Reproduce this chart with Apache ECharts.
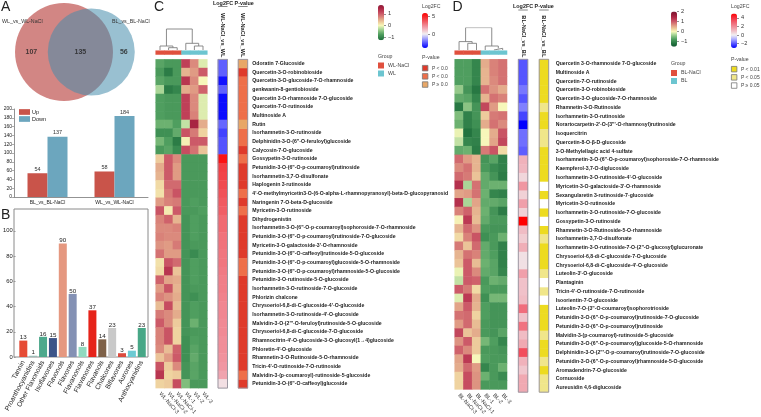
<!DOCTYPE html>
<html>
<head>
<meta charset="utf-8">
<style>html,body{margin:0;padding:0;background:#fff}#chart{width:761px;height:417px}</style>
<script src="https://cdn.jsdelivr.net/npm/echarts@6/dist/echarts.min.js"></script>
</head>
<body>
<div id="chart"></div>
<script>
// Differential flavonoid counts
const vennSetNames = ['WL_vs_WL-NaCl', 'BL_vs_BL-NaCl'];
const vennOnlyLeft = 107, vennShared = 135, vennOnlyRight = 56;

const compareNames = ['BL_vs_BL-NaCl', 'WL_vs_WL-NaCl'];
const upCounts = [54, 58];
const downCounts = [137, 184];
const countTicks = [0, 20, 40, 60, 80, 100, 120, 140, 160, 180, 200];

const classNames = ['Tannin', 'Proanthocyanidins', 'Other Flavonoids', 'Isoflavones', 'Flavonols', 'Flavones',
  'Flavanonols', 'Flavanones', 'Flavanols', 'Chalcones', 'Biflavones', 'Aurones', 'Anthocyanidins'];
const classCounts = [13, 1, 16, 15, 90, 50, 8, 37, 14, 23, 3, 5, 23];
const classColors = ['#E64B35', '#9DBDB8', '#4DA88C', '#3C5488', '#E59880', '#8491B4', '#91D9BF', '#E6231A',
  '#7E6148', '#C9C9C9', '#DC4B3E', '#6CCAD2', '#48A787'];
const classTicks = [0, 20, 40, 60, 80, 100];

// WL-NaCl vs WL heatmap
const samplesWL = ['WL-NaCl-3', 'WL-NaCl-2', 'WL-NaCl-1', 'WL-1', 'WL-2', 'WL-3'];
const metabolitesWL = [
  'Odoratin 7-Glucoside', 'Quercetin-3-O-robinobioside', 'Quercetin-3-O-glucoside-7-O-rhamnoside',
  'genkwanin-8-gentiobioside', 'Quercetin 3-O-rhamnoside 7-O-glucoside', 'Quercetin-7-O-rutinoside',
  'Multinoside A', 'Rutin', 'Isorhamnetin-3-O-rutinoside', 'Delphinidin-3-O-(6"-O-feruloyl)glucoside',
  'Calycosin-7-O-glucoside', 'Gossypetin-3-O-rutinoside', 'Petunidin-3-O-(6"-O-p-coumaroyl)rutinoside',
  'Isorhamnetin-3,7-O-disulfonate', 'Haplogenin 3-rutinoside',
  "4'-O-methylmyricetin3-O-(6-O-alpha-L-rhamnopyranosyl)-beta-D-glucopyranosid",
  'Naringenin 7-O-beta-D-glucoside', 'Myricetin-3-O-rutinoside', 'Dihydrogenistin',
  'Isorhamnetin-3-O-(6"-O-p-coumaroyl)sophoroside-7-O-rhamnoside',
  'Petunidin-3-O-(6"-O-p-coumaroyl)rutinoside-7-O-glucoside', "Myricetin-3-O-galactoside-3'-O-rhamnoside",
  'Petunidin-3-O-(6"-O-caffeoyl)rutinoside-5-O-glucoside',
  'Petunidin-3-O-(6"-O-p-coumaroyl)glucoside-5-O-rhamnoside',
  'Petunidin-3-O-(6"-O-p-coumaroyl)rhamnoside-5-O-glucoside', 'Petunidin-3-O-rutinoside-5-O-glucoside',
  'Isorhamnetin-3-O-rutinoside-7-O-glucoside', 'Phlorizin chalcone',
  "Chrysoeriol-6,8-di-C-glucoside-4'-O-glucoside", "Isorhamnetin-3-O-rutinoside-4'-O-glucoside",
  'Malvidin-3-O-(2"\'-O-feruloyl)rutinoside-5-O-glucoside', 'Chrysoeriol-6,8-di-C-glucoside-7-O-glucoside',
  "Rhamnocitrin-4'-O-glucoside-3-O-glucosyl(1→4)glucoside", "Phloretin-4'-O-glucoside",
  'Rhamnetin-3-O-Rutinoside-5-O-rhamnoside', "Tricin-4'-O-rutinoside-7-O-rutinoside",
  'Malvidin-3-(p-coumaroyl)-rutinoside-5-glucoside', 'Petunidin-3-O-(6"-O-caffeoyl)glucoside'];
const scaledWL = [
  [-0.7,-0.8,-0.8,1.2,0.7,-0.1],[-0.8,-1.1,-0.8,0.45,0.6,1.0],[-0.7,-0.8,-0.8,1.3,0.7,0.0],
  [-0.3,-1.1,-1.0,0.5,0.6,0.95],[-0.75,-0.8,-0.8,1.2,0.7,-0.1],[-0.75,-0.8,-0.8,1.2,0.7,-0.1],
  [-0.75,-0.8,-0.8,1.2,0.75,-0.1],[-0.6,-0.6,-0.75,-0.2,1.5,0.5],[-0.9,-0.9,-0.65,1.05,0.8,0.25],
  [-0.55,-0.75,-1.1,0.05,1.0,1.0],[-0.8,-0.7,-0.95,1.1,0.85,0.35],[0.3,1.0,0.7,-0.8,-0.8,-0.8],
  [0.5,1.0,0.6,-0.8,-0.8,-0.8],[0.45,1.0,0.6,-0.8,-0.8,-0.8],[0.2,0.9,0.9,-0.8,-0.8,-0.8],
  [0.15,0.8,1.05,-0.8,-0.8,-0.8],[0.6,0.75,0.8,-0.8,-0.75,-0.8],[1.05,0.1,1.0,-0.8,-0.8,-0.75],
  [0.75,0.95,0.45,-0.85,-0.75,-0.8],[0.7,0.7,0.75,-0.85,-0.75,-0.8],[0.75,0.7,0.7,-0.85,-0.75,-0.8],
  [0.65,0.6,0.8,-0.85,-0.8,-0.8],[0.85,0.6,0.6,-0.85,-0.95,-0.8],[0.15,1.05,0.9,-0.85,-0.75,-0.8],
  [0.2,1.3,0.35,-0.85,-0.75,-0.8],[0.95,0.55,0.5,-0.85,-0.75,-0.8],[0.6,1.05,0.45,-0.85,-0.8,-0.8],
  [0.75,0.65,0.5,-0.85,-0.9,-0.8],[0.4,1.1,0.4,-0.85,-0.75,-0.8],[0.8,0.7,0.5,-0.85,-0.75,-0.8],
  [1.0,0.7,0.3,-0.85,-0.6,-0.8],[0.75,1.05,0.25,-0.85,-0.8,-0.8],[0.75,1.05,0.25,-0.9,-0.75,-0.8],
  [0.7,0.4,0.95,-0.9,-0.7,-0.8],[0.35,0.6,1.0,-0.9,-0.65,-0.8],[1.05,0.3,0.7,-0.85,-0.7,-0.8],
  [1.3,0.25,0.3,-0.85,-0.7,-0.8],[0.25,0.3,1.1,-0.5,-0.8,-0.8]];
const log2fcWL = [-2.4,-2.4,-3.7,-2.4,-3.8,-3.8,-3.8,-2.3,-2.9,-2.6,-2.6,5.5,4.3,4.2,4.0,3.8,3.6,3.5,3.2,3.2,3.0,
  3.0,2.9,2.9,2.8,2.7,2.7,2.6,2.5,2.5,2.4,2.4,2.3,2.3,2.2,2.1,1.8,0.4];
const pLevelWL = [2,0,1,1,1,1,1,2,1,1,0,1,0,0,0,1,0,1,0,0,0,0,0,1,1,0,0,0,0,0,0,0,0,0,0,0,1,0];
const mergeTreeWL = [[0, [1, 2, 2.3], 4], [3, [4, 5, 4], 6.7], 21];

// BL-NaCl vs BL heatmap
const samplesBL = ['BL-NaCl-3', 'BL-NaCl-2', 'BL-NaCl-1', 'BL-1', 'BL-2', 'BL-3'];
const metabolitesBL = [
  'Quercetin 3-O-rhamnoside 7-O-glucoside', 'Multinoside A', 'Quercetin-7-O-rutinoside',
  'Quercetin-3-O-robinobioside', 'Quercetin-3-O-glucoside-7-O-rhamnoside', 'Rhamnetin-3-O-Rutinoside',
  'Isorhamnetin-3-O-rutinoside', 'Norartocarpetin-2\'-O-(3"\'-O-rhamnosyl)rutinoside', 'Isoquercitrin',
  'Quercetin-8-O-β-D-glucoside', '3-O-Methylellagic acid 4-sulfate',
  'Isorhamnetin-3-O-(6"-O-p-coumaroyl)sophoroside-7-O-rhamnoside', 'Kaempferol-3,7-O-diglucoside',
  "Isorhamnetin-3-O-rutinoside-4'-O-glucoside", "Myricetin-3-O-galactoside-3'-O-rhamnoside",
  'Sexangularetin 3-rutinoside-7-glucoside', 'Myricetin-3-O-rutinoside',
  'Isorhamnetin-3-O-rutinoside-7-O-glucoside', 'Gossypetin-3-O-rutinoside',
  'Rhamnetin-3-O-Rutinoside-5-O-rhamnoside', 'Isorhamnetin-3,7-O-disulfonate',
  'Isorhamnetin-3-O-rutinoside-7-O-(2"-O-glucosyl)glucuronate', 'Chrysoeriol-6,8-di-C-glucoside-7-O-glucoside',
  "Chrysoeriol-6,8-di-C-glucoside-4'-O-glucoside", "Luteolin-3'-O-glucoside", 'Plantaginin',
  "Tricin-4'-O-rutinoside-7-O-rutinoside", 'Isoorientin-7-O-glucoside',
  'Luteolin-7-O-(3"-O-coumaroyl)sophorotrioside', 'Petunidin-3-O-(6"-O-p-coumaroyl)rutinoside-7-O-glucoside',
  'Petunidin-3-O-(6"-O-p-coumaroyl)rutinoside', 'Malvidin-3-(p-coumaroyl)-rutinoside-5-glucoside',
  'Petunidin-3-O-(6"-O-p-coumaroyl)glucoside-5-O-rhamnoside',
  'Delphinidin-3-O-(2"\'-O-p-coumaroyl)rutinoside-7-O-glucoside',
  'Petunidin-3-O-(6"-O-p-coumaroyl)rhamnoside-5-O-glucoside', 'Aromadendrin-7-O-glucoside', 'Cornuoside',
  'Aureusidin 4,6-diglucoside'];
const scaledBL = [
  [-0.75,-0.75,-1.0,0.5,0.75,0.85],[-0.75,-0.75,-1.0,0.45,0.75,0.85],[-0.75,-0.75,-1.0,0.45,0.7,0.85],
  [-0.4,-0.85,-1.15,0.85,0.65,0.5],[-0.65,-0.7,-1.0,0.45,0.85,0.75],[-1.15,-0.45,-0.85,1.15,0.6,0.0],
  [-0.5,-1.05,-0.85,0.3,0.8,0.85],[-0.6,-1.05,-0.9,0.5,0.85,0.7],[-0.05,-1.2,-1.0,0.0,0.5,1.05],
  [-0.2,-1.0,-1.05,0.0,0.55,1.15],[-0.65,-0.6,-1.1,0.8,1.05,0.2],[0.9,0.6,0.45,-0.85,-0.7,-1.05],
  [0.7,0.85,0.45,-0.8,-0.95,-1.05],[0.9,0.8,0.35,-0.65,-0.85,-1.1],[1.35,-0.3,0.85,-0.65,-0.6,-0.6],
  [0.55,0.6,0.85,-0.6,-1.0,-1.05],[1.35,-0.3,0.55,-0.65,-0.65,-0.7],[0.75,0.95,0.45,-0.6,-0.85,-1.1],
  [0.05,1.25,0.4,-0.65,-0.8,-0.8],[0.45,0.9,0.65,-0.8,-0.85,-0.85],[0.2,0.75,1.05,-0.9,-0.8,-0.6],
  [0.8,0.35,0.9,-0.65,-0.8,-1.05],[0.45,0.85,0.75,-0.65,-0.75,-1.05],[0.35,1.0,0.4,-0.6,-0.7,-1.05],
  [-0.05,1.0,0.7,-0.65,-0.7,-1.0],[-0.2,1.0,0.95,-0.8,-0.6,-0.65],[1.0,0.8,0.2,-0.75,-0.8,-0.8],
  [-0.1,1.25,0.5,-0.9,-0.55,-0.55],[0.55,1.0,0.45,-0.75,-0.85,-0.85],[0.85,0.9,0.25,-0.75,-0.85,-0.85],
  [0.6,0.9,0.4,-0.8,-0.85,-0.85],[1.15,0.35,0.5,-0.8,-0.85,-0.7],[0.65,1.0,0.3,-0.55,-0.75,-1.0],
  [0.95,0.7,0.3,-0.8,-0.8,-0.85],[0.55,1.25,0.0,-0.75,-0.8,-0.8],[0.5,0.9,0.6,-1.0,-0.8,-0.6],
  [0.25,1.1,0.65,-0.6,-0.8,-0.95],[0.25,1.1,0.65,-0.8,-0.8,-0.8]];
const log2fcBL = [-2.0,-2.0,-2.0,-1.6,-2.0,-1.5,-2.2,-3.0,-1.7,-1.7,-1.9,1.2,1.1,0.5,1.8,0.6,1.6,0.6,5.0,1.0,0.7,
  1.3,0.3,0.3,1.6,0.9,0.9,1.0,2.7,0.9,2.6,1.0,1.4,3.4,1.2,0.8,1.4,1.4];
const pLevelBL = [0,0,0,0,0,1,0,0,1,1,0,0,0,0,2,0,2,0,2,0,1,0,0,0,1,2,1,2,0,0,0,1,0,0,1,0,1,1];
const mergeTreeBL = [[0, [1, 2, 6.7], 8.4], [3, [4, 5, 1.7], 4], 22.4];

// Colour ramps and legend ticks
const scaledRampSteps = ['#145A30', '#1F6E3C', '#35864D', '#4F9E5F', '#80BD7C', '#B5DC9E', '#F7F7BA', '#EFD3A0',
  '#E4AC8C', '#D98279', '#CC5A68', '#BC3A54', '#A82442', '#8F1A36', '#7A1430'];
const log2fcRampWL = ['#0000FF', '#7878FF', '#F2F0F2', '#F09AA6', '#F04A50', '#FF0000'];
const log2fcRampBL = ['#0000FF', '#5555FF', '#AAAAFF', '#F2F0F2', '#F0BCC4', '#F08C98', '#F06070', '#F53040', '#FF0000'];
const scaledTicksWL = [-1, 0, 1], scaledTicksBL = [-1, 0, 1, 2];
const fcTicksWL = [0, 5], fcTicksBL = [-2, 0, 2, 4];
const pLabelsWL = ['P < 0.0', 'P < 0.0', 'P ≥ 0.0'];
const pLabelsBL = ['P < 0.01', 'P < 0.05', 'P ≥ 0.05'];
const pColorsWL = ['#DF3A2B', '#EE6F4A', '#E8A767'];
const pColorsBL = ['#EDDB20', '#F0E68A', '#FFFFFF'];

const FONT = '"Liberation Sans", Arial, sans-serif';
const INK = '#222';
const grid = [], xAxis = [], yAxis = [], series = [], visualMap = [], legend = [], title = [], graphic = [];

function addPanel(box, x, y) {
  grid.push(Object.assign({ containLabel: false }, box));
  const i = grid.length - 1;
  xAxis.push(Object.assign({ gridIndex: i }, x));
  yAxis.push(Object.assign({ gridIndex: i }, y));
  return i;
}
function addSeries(s) { series.push(s); return series.length - 1; }
function caption(text, left, top, size, weight, color) {
  title.push({ text, left, top, padding: 0, textStyle: { fontFamily: FONT, fontSize: size, fontWeight: weight || 'normal', color: color || INK, lineHeight: size } });
}
function underline(x1, x2, y) {
  graphic.push({ type: 'line', silent: true, shape: { x1, y1: y, x2, y2: y }, style: { stroke: '#555', lineWidth: 0.7 } });
}
const hidden = { show: false };
const plainCats = data => ({ type: 'category', data, axisLine: hidden, axisTick: hidden, axisLabel: hidden, splitLine: hidden });

// Area-proportional Venn: circle radii follow the set sizes, spacing is solved from the shared area
function lensArea(r1, r2, d) {
  const a = (d * d + r1 * r1 - r2 * r2) / (2 * d), b = d - a;
  const seg = (r, h) => r * r * Math.acos(h / r) - h * Math.sqrt(r * r - h * h);
  return seg(r1, a) + seg(r2, b);
}
function drawVenn() {
  const pxPerUnit = 5.58;
  const r1 = Math.sqrt((vennOnlyLeft + vennShared) / Math.PI);
  const r2 = Math.sqrt((vennOnlyRight + vennShared) / Math.PI);
  let lo = r1 - r2 + 1e-3, hi = r1 + r2 - 1e-3;
  for (let k = 0; k < 60; k++) {
    const mid = (lo + hi) / 2;
    if (lensArea(r1, r2, mid) > vennShared) lo = mid; else hi = mid;
  }
  const d = (lo + hi) / 2;
  const i = addPanel({ left: 0, top: 0, width: 150, height: 104 },
    { type: 'value', show: false, min: -64 / pxPerUnit, max: 86 / pxPerUnit },
    { type: 'value', show: false, min: -52 / pxPerUnit, max: 52 / pxPerUnit });
  addSeries({ type: 'scatter', xAxisIndex: i, yAxisIndex: i, data: [[0, 0]], symbolSize: 2 * r1 * pxPerUnit, silent: true,
    itemStyle: { color: 'rgb(192,88,84)', opacity: 0.72 } });
  addSeries({ type: 'scatter', xAxisIndex: i, yAxisIndex: i, data: [[d, 0]], symbolSize: 2 * r2 * pxPerUnit, silent: true,
    itemStyle: { color: 'rgb(70,140,172)', opacity: 0.55 } });
  addSeries({ type: 'scatter', xAxisIndex: i, yAxisIndex: i, symbolSize: 0, silent: true, z: 5,
    data: [[(d - r2 - r1) / 2, 0, vennOnlyLeft], [(d - r2 + r1) / 2, 0, vennShared], [(r1 + d + r2) / 2, 0, vennOnlyRight]],
    label: { show: true, position: 'inside', formatter: p => p.value[2], fontFamily: FONT, fontSize: 7, fontWeight: 'bold', color: '#222' } });
  caption(vennSetNames[0], 2, 19, 5.3, 'normal', '#333');
  caption(vennSetNames[1], 112, 19, 5.3, 'normal', '#333');
}

function drawUpDownBars() {
  const i = addPanel({ left: 14, top: 109, width: 134, height: 88 },
    { type: 'category', data: compareNames, axisLine: { lineStyle: { color: '#777', width: 0.8 } }, axisTick: { length: 2, lineStyle: { color: '#777', width: 0.6 } },
      axisLabel: { fontFamily: FONT, fontSize: 5, color: INK, margin: 3, interval: 0 } },
    { type: 'value', min: 0, max: 200, interval: 20, axisLine: { show: true, lineStyle: { color: '#777', width: 0.8 } }, axisTick: { show: true, length: 2, lineStyle: { color: '#777', width: 0.6 } },
      splitLine: hidden, axisLabel: { fontFamily: FONT, fontSize: 5, color: INK, margin: 2, customValues: countTicks } });
  const valueLabel = { show: true, position: 'top', distance: 1, fontFamily: FONT, fontSize: 5.5, color: '#333' };
  addSeries({ type: 'bar', name: 'Up', xAxisIndex: i, yAxisIndex: i, data: upCounts, barWidth: 20, barGap: 0, itemStyle: { color: '#C9544A' }, label: valueLabel });
  addSeries({ type: 'bar', name: 'Down', xAxisIndex: i, yAxisIndex: i, data: downCounts, barWidth: 20, barGap: 0, itemStyle: { color: '#6CA6BE' }, label: valueLabel });
  legend.push({ data: ['Up', 'Down'], orient: 'vertical', left: 19, top: 109, padding: 0, itemWidth: 11, itemHeight: 5.7, itemGap: 1, selectedMode: false, icon: 'rect',
    textStyle: { fontFamily: FONT, fontSize: 5.5, color: INK, padding: [0, 0, 0, -3] } });
}

function drawClassBars() {
  // Outer frame of the panel, slightly wider than the band axis inside it
  addPanel({ left: 14, top: 209, width: 134, height: 148, show: true, borderColor: '#8a8a8a', borderWidth: 1 },
    { type: 'value', show: false, min: 0, max: 1 }, { type: 'value', show: false, min: 0, max: 1 });
  const i = addPanel({ left: 16.7, top: 209, width: 130, height: 148 },
    { type: 'category', data: classNames, axisLine: hidden, axisTick: hidden,
      axisLabel: { fontFamily: FONT, fontSize: 6.8, color: INK, rotate: 62, margin: 4, interval: 0 } },
    { type: 'value', min: 0, max: 117.3, offset: 2.7, splitLine: hidden, axisLine: hidden,
      axisTick: { show: true, length: 2, lineStyle: { color: '#777', width: 0.6 }, customValues: classTicks },
      axisLabel: { fontFamily: FONT, fontSize: 5.8, color: INK, margin: 3, customValues: classTicks } });
  addSeries({ type: 'bar', xAxisIndex: i, yAxisIndex: i, barWidth: 8,
    data: classCounts.map((value, k) => ({ value, itemStyle: { color: classColors[k] } })),
    label: { show: true, position: 'top', distance: 0, fontFamily: FONT, fontSize: 6.2, color: '#222' } });
}

// Draws the merge tree of one clustered heatmap as connected brackets
function dendrogramSegments(tree, out) {
  const place = node => {
    if (typeof node === 'number') return { x: node + 0.5, y: 0 };
    const a = place(node[0]), b = place(node[1]), h = node[2];
    out.push([a.x, a.y], [a.x, h], [b.x, h], [b.x, b.y], ['-', '-']);
    return { x: (a.x + b.x) / 2, y: h };
  };
  place(tree);
  return out;
}

function drawHeatmapPanel(cfg) {
  const x = cfg.left, w = cfg.cellW * 6;
  const rowCount = cfg.rows.length;
  const h = cfg.rowH * rowCount;

  const d = addPanel({ left: x, top: 28, width: w, height: 22 },
    { type: 'value', show: false, min: 0, max: 6 }, { type: 'value', show: false, min: 0, max: 22 });
  addSeries({ type: 'line', xAxisIndex: d, yAxisIndex: d, symbol: 'none', silent: true, connectNulls: false,
    data: dendrogramSegments(cfg.tree, []), lineStyle: { color: '#7f7f7f', width: 0.9 } });

  const g = addPanel({ left: x, top: 50.7, width: w, height: 3.8 }, plainCats(cfg.samples), plainCats(['group']));
  const cols = [0, 1, 2, 3, 4, 5];
  addSeries({ type: 'heatmap', name: cfg.groups[0], xAxisIndex: g, yAxisIndex: g, silent: true, itemStyle: { color: '#E0503E' },
    data: cols.slice(0, 3).map(c => [c, 0, 1]) });
  addSeries({ type: 'heatmap', name: cfg.groups[1], xAxisIndex: g, yAxisIndex: g, silent: true, itemStyle: { color: '#6CC5D0' },
    data: cols.slice(3).map(c => [c, 0, 1]) });

  const m = addPanel({ left: x, top: cfg.top, width: w, height: h },
    { type: 'category', data: cfg.samples, axisLine: hidden, axisTick: hidden,
      axisLabel: { interval: 0, rotate: -48, fontFamily: FONT, fontSize: 5.4, color: '#333', margin: 5 } },
    Object.assign(plainCats(cfg.rows), { inverse: true }));
  const cells = [];
  cfg.scaled.forEach((row, r) => row.forEach((v, c) => cells.push([c, r, v])));
  const mainIdx = addSeries({ type: 'heatmap', xAxisIndex: m, yAxisIndex: m, data: cells, silent: true, progressive: 0 });
  visualMap.push({ type: 'continuous', seriesIndex: mainIdx, min: cfg.scaleMin, max: cfg.scaleMax, left: cfg.scaleLeft, top: cfg.scaleTop,
    itemWidth: 6, itemHeight: cfg.scaleH, padding: 0, text: null, hoverLink: false, calculable: false, inRange: { color: cfg.scaleColors } });
  addLegendTicks(cfg.scaleLeft + 6, cfg.scaleTop, cfg.scaleH, cfg.scaleMin, cfg.scaleMax, cfg.scaleTicks);

  const frame = { show: true, z: 6, borderColor: '#9b97a2', borderWidth: 1 };
  const contrastAxis = { type: 'category', position: 'top', data: [cfg.contrast], axisLine: hidden, axisTick: hidden,
    axisLabel: { rotate: 90, fontFamily: FONT, fontSize: 5.6, fontWeight: 'bold', color: INK, margin: 2, interval: 0 } };
  const fc = addPanel(Object.assign({ left: cfg.fcLeft, top: cfg.top, width: 9.5, height: h }, frame),
    contrastAxis, Object.assign(plainCats(cfg.rows), { inverse: true }));
  const fcIdx = addSeries({ type: 'heatmap', xAxisIndex: fc, yAxisIndex: fc, silent: true, progressive: 0,
    data: cfg.fc.map((v, r) => [0, r, v]) });
  visualMap.push({ type: 'continuous', seriesIndex: fcIdx, min: cfg.fcMin, max: cfg.fcMax, left: cfg.fcScaleLeft, top: cfg.fcScaleTop,
    itemWidth: 6, itemHeight: cfg.fcScaleH, padding: 0, text: null, hoverLink: false, calculable: false, inRange: { color: cfg.fcColors } });
  addLegendTicks(cfg.fcScaleLeft + 6, cfg.fcScaleTop, cfg.fcScaleH, cfg.fcMin, cfg.fcMax, cfg.fcTicks);

  const p = addPanel(Object.assign({ left: cfg.pLeft, top: cfg.top, width: 9.5, height: h }, frame),
    Object.assign({}, contrastAxis),
    { type: 'category', inverse: true, position: 'right', data: cfg.rows, axisLine: hidden, axisTick: hidden,
      axisLabel: { interval: 0, fontFamily: FONT, fontSize: 5.15, fontWeight: 'bold', color: INK, margin: cfg.labelGap, align: 'left' } });
  const pNames = cfg.pLabels.map((label, k) => cfg.key + k + '|' + label);
  pNames.forEach((name, k) => {
    addSeries({ type: 'heatmap', name, xAxisIndex: p, yAxisIndex: p, silent: true, progressive: 0,
      itemStyle: { color: cfg.pColors[k] },
      data: cfg.p.map((lvl, r) => (lvl === k ? [0, r, 1] : null)).filter(Boolean) });
  });

  const legendText = { fontFamily: FONT, fontSize: 5.2, color: '#444', padding: [0, 0, 0, -1] };
  legend.push({ data: cfg.groups, orient: 'vertical', left: cfg.scaleLeft, top: cfg.groupTop, padding: 0, itemWidth: 6, itemHeight: 6, itemGap: 2, icon: 'rect', selectedMode: false,
    textStyle: legendText });
  legend.push({ data: pNames.map((name, k) => ({ name, icon: 'rect', itemStyle: { color: cfg.pColors[k], borderColor: cfg.pEdge, borderWidth: 0.8 } })),
    orient: 'vertical', left: cfg.fcScaleLeft, top: cfg.pLegendTop, padding: 0, itemWidth: 5.5, itemHeight: 5.5, itemGap: 1.9, selectedMode: false,
    formatter: n => n.split('|')[1], textStyle: Object.assign({}, legendText, { fontSize: 5, padding: [0, 0, 0, -1] }) });

  caption('Group', cfg.scaleLeft, cfg.groupTitleTop, 5.2, 'normal', '#444');
  caption('Log2FC', cfg.fcScaleLeft, 3.5, 5.2, 'normal', '#444');
  caption('P-value', cfg.fcScaleLeft, cfg.pTitleTop, 5.2, 'normal', '#444');
  caption('Log2FC P-value', cfg.headLeft, cfg.headTop, 5.4, 'bold', INK);
  underline(cfg.fcLeft, cfg.fcLeft + 9.5, cfg.headLineY);
  underline(cfg.pLeft, cfg.pLeft + 9.5, cfg.headLineY);
}

// Tick marks and numbers beside a continuous colour bar
function addLegendTicks(left, top, height, min, max, ticks) {
  addPanel({ left, top, width: 1, height },
    { type: 'value', show: false, min: 0, max: 1 },
    { type: 'value', position: 'left', min, max, axisLine: hidden, splitLine: hidden,
      axisTick: { show: true, inside: false, length: -2, lineStyle: { color: '#444', width: 0.6 }, customValues: ticks },
      axisLabel: { inside: false, margin: -4, align: 'left', fontFamily: FONT, fontSize: 5.6, color: '#333', customValues: ticks, formatter: v => String(v).replace('-', '\u2212') } });
}

drawVenn();
drawUpDownBars();
drawClassBars();

drawHeatmapPanel({
  key: 'w', left: 155.7, cellW: 8.6, top: 59.4, rowH: 8.65, rows: metabolitesWL, samples: samplesWL, scaled: scaledWL,
  tree: mergeTreeWL, groups: ['WL-NaCl', 'WL'], contrast: 'WL-NaCl_vs_WL', fc: log2fcWL, p: pLevelWL,
  fcLeft: 218, pLeft: 238.2, labelGap: 4.6, headLeft: 213, headTop: 1, headLineY: 6.5,
  scaleLeft: 378, scaleTop: 5, scaleH: 35.25, scaleMin: -1.25, scaleMax: 1.75, scaleTicks: scaledTicksWL, scaleColors: scaledRampSteps.slice(1, 14),
  fcScaleLeft: 422, fcScaleTop: 13, fcScaleH: 35, fcMin: -4, fcMax: 6, fcTicks: fcTicksWL, fcColors: log2fcRampWL,
  pLabels: pLabelsWL, pColors: pColorsWL, pEdge: '#777', groupTop: 62.5, groupTitleTop: 53.5, pTitleTop: 55, pLegendTop: 65
});
drawHeatmapPanel({
  key: 'b', left: 454.7, cellW: 8.72, top: 59.3, rowH: 8.76, rows: metabolitesBL, samples: samplesBL, scaled: scaledBL,
  tree: mergeTreeBL, groups: ['BL-NaCl', 'BL'], contrast: 'BL-NaCl_vs_BL', fc: log2fcBL, p: pLevelBL,
  fcLeft: 518.3, pLeft: 539.2, labelGap: 7, headLeft: 513, headTop: 3.5, headLineY: 10,
  scaleLeft: 671, scaleTop: 11.5, scaleH: 35.2, scaleMin: -1.5, scaleMax: 2, scaleTicks: scaledTicksBL, scaleColors: scaledRampSteps,
  fcScaleLeft: 731, fcScaleTop: 13.5, fcScaleH: 34.5, fcMin: -3, fcMax: 5, fcTicks: fcTicksBL, fcColors: log2fcRampBL,
  pLabels: pLabelsBL, pColors: pColorsBL, pEdge: '#777', groupTop: 70, groupTitleTop: 60.5, pTitleTop: 56.5, pLegendTop: 66
});

caption('A', 1, 0, 14);
caption('B', 1, 208, 14);
caption('C', 154, 0, 14);
caption('D', 452.5, 0, 14);

const chart = echarts.init(document.getElementById('chart'), null, { renderer: 'canvas' });
chart.setOption({ animation: false, backgroundColor: '#fff', title, grid, xAxis, yAxis, series, visualMap, legend, graphic,
  textStyle: { fontFamily: FONT } });
</script>
</body>
</html>
